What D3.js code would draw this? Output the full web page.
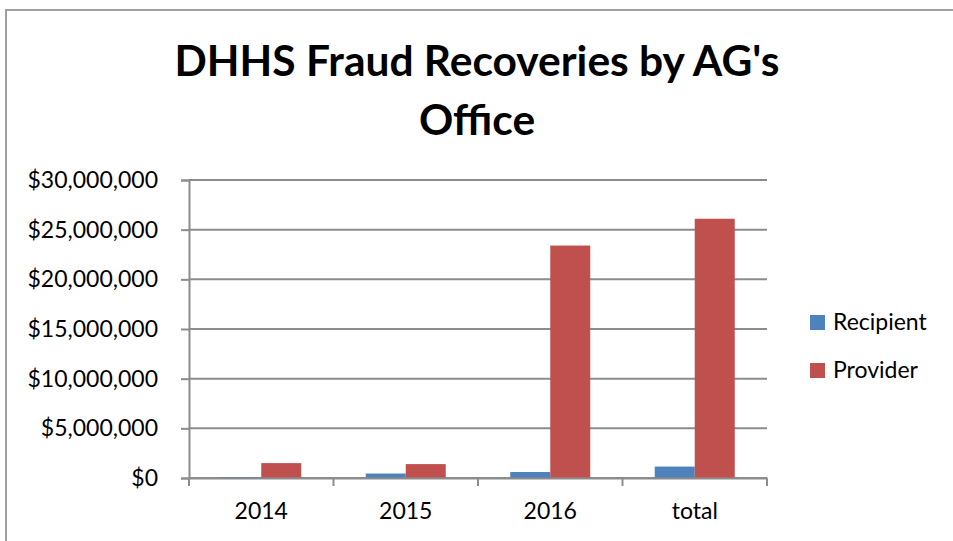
<!DOCTYPE html>
<html>
<head>
<meta charset="utf-8">
<script src="https://cdn.jsdelivr.net/npm/d3@7"></script>
<style>
  body { margin: 0; background: #fff; }
  svg { display: block; font-family: Lato, "Open Sans", sans-serif; }
</style>
</head>
<body>
<div id="chart"></div>
<script>
// chart values
const categories = ['2014', '2015', '2016', 'total'];
const seriesNames = ['Recipient', 'Provider'];
const recipient = [100000, 450000, 600000, 1150000];
const provider = [1500000, 1400000, 23400000, 26100000];
const yTicks = [0, 5000000, 10000000, 15000000, 20000000, 25000000, 30000000];
const colors = ['#4f81bd', '#c0504d'];

const width = 953, height = 541;
const plot = { left: 189, right: 767, top: 180, bottom: 478 };
const labelSize = 23;

const svg = d3.select('#chart').append('svg')
    .attr('width', width)
    .attr('height', height);

// outer frame
svg.append('rect')
    .attr('x', 6).attr('y', 10)
    .attr('width', width + 10).attr('height', height + 10)
    .attr('fill', 'none')
    .attr('stroke', '#a0a0a0')
    .attr('stroke-width', 2);

// title, two lines
const titleLines = ["DHHS Fraud Recoveries by AG's", 'Office'];
const title = svg.append('text')
    .attr('text-anchor', 'middle')
    .attr('font-weight', 'bold')
    .attr('font-size', 40)
    .attr('fill', '#000');
title.append('tspan').attr('x', 477).attr('y', 76).text(titleLines[0]);
title.append('tspan').attr('x', 477).attr('y', 135).text(titleLines[1]);
// fit first line to ~605px
const w0 = title.select('tspan').node().getComputedTextLength();
title.attr('font-size', 40 * 605 / w0);

const x0 = d3.scaleBand()
    .domain(categories)
    .range([plot.left, plot.right])
    .padding(0);

const groupW = 80;
const x1 = d3.scaleBand()
    .domain(seriesNames)
    .range([(x0.bandwidth() - groupW) / 2, (x0.bandwidth() + groupW) / 2])
    .padding(0);

const y = d3.scaleLinear()
    .domain([0, 30000000])
    .range([plot.bottom, plot.top]);

// gridlines
svg.append('g')
    .selectAll('line')
    .data(yTicks)
    .enter()
    .append('line')
    .attr('x1', plot.left).attr('x2', plot.right)
    .attr('y1', d => y(d)).attr('y2', d => y(d))
    .attr('stroke', '#8c8c8c')
    .attr('stroke-width', 2);

// y axis
const yAxis = svg.append('g')
    .attr('transform', `translate(${plot.left},0)`)
    .call(d3.axisLeft(y).tickValues(yTicks).tickSize(8).tickPadding(23)
        .tickFormat(d => '$' + d3.format(',')(d)));
yAxis.select('.domain').attr('stroke', '#8c8c8c').attr('stroke-width', 2);
yAxis.selectAll('.tick line').attr('stroke', '#8c8c8c').attr('stroke-width', 2);
yAxis.selectAll('.tick text')
    .attr('font-size', labelSize)
    .attr('fill', '#000')
    .attr('font-family', 'Lato, sans-serif');

// bars
const groups = svg.append('g')
    .selectAll('g')
    .data(categories)
    .enter()
    .append('g')
    .attr('transform', d => `translate(${x0(d)},0)`);

groups.selectAll('rect')
    .data((d, i) => [
        { key: 'Recipient', value: recipient[i] },
        { key: 'Provider', value: provider[i] }
    ])
    .enter()
    .append('rect')
    .attr('x', d => x1(d.key))
    .attr('y', d => y(d.value))
    .attr('width', x1.bandwidth())
    .attr('height', d => y(0) - y(d.value))
    .attr('fill', (d, i) => colors[i]);

// x axis
const xAxis = svg.append('g')
    .attr('transform', `translate(0,${plot.bottom})`)
    .call(d3.axisBottom(x0).tickSize(0).tickPadding(25));
xAxis.select('.domain').attr('stroke', '#8c8c8c').attr('stroke-width', 2);
xAxis.selectAll('.tick text')
    .attr('font-size', labelSize)
    .attr('fill', '#000')
    .attr('font-family', 'Lato, sans-serif');
// category separators
xAxis.selectAll('.sep')
    .data(categories.concat(['end']))
    .enter()
    .append('line')
    .attr('class', 'sep')
    .attr('x1', (d, i) => plot.left + i * x0.bandwidth())
    .attr('x2', (d, i) => plot.left + i * x0.bandwidth())
    .attr('y1', 0).attr('y2', 8)
    .attr('stroke', '#8c8c8c')
    .attr('stroke-width', 2);

// legend
const legend = svg.append('g')
    .selectAll('g')
    .data(seriesNames)
    .enter()
    .append('g')
    .attr('transform', (d, i) => `translate(810,${315 + i * 48})`);
legend.append('rect')
    .attr('width', 15).attr('height', 15)
    .attr('fill', (d, i) => colors[i]);
legend.append('text')
    .attr('x', 23).attr('y', 15)
    .attr('font-size', labelSize)
    .attr('fill', '#000')
    .text(d => d);
</script>
</body>
</html>
